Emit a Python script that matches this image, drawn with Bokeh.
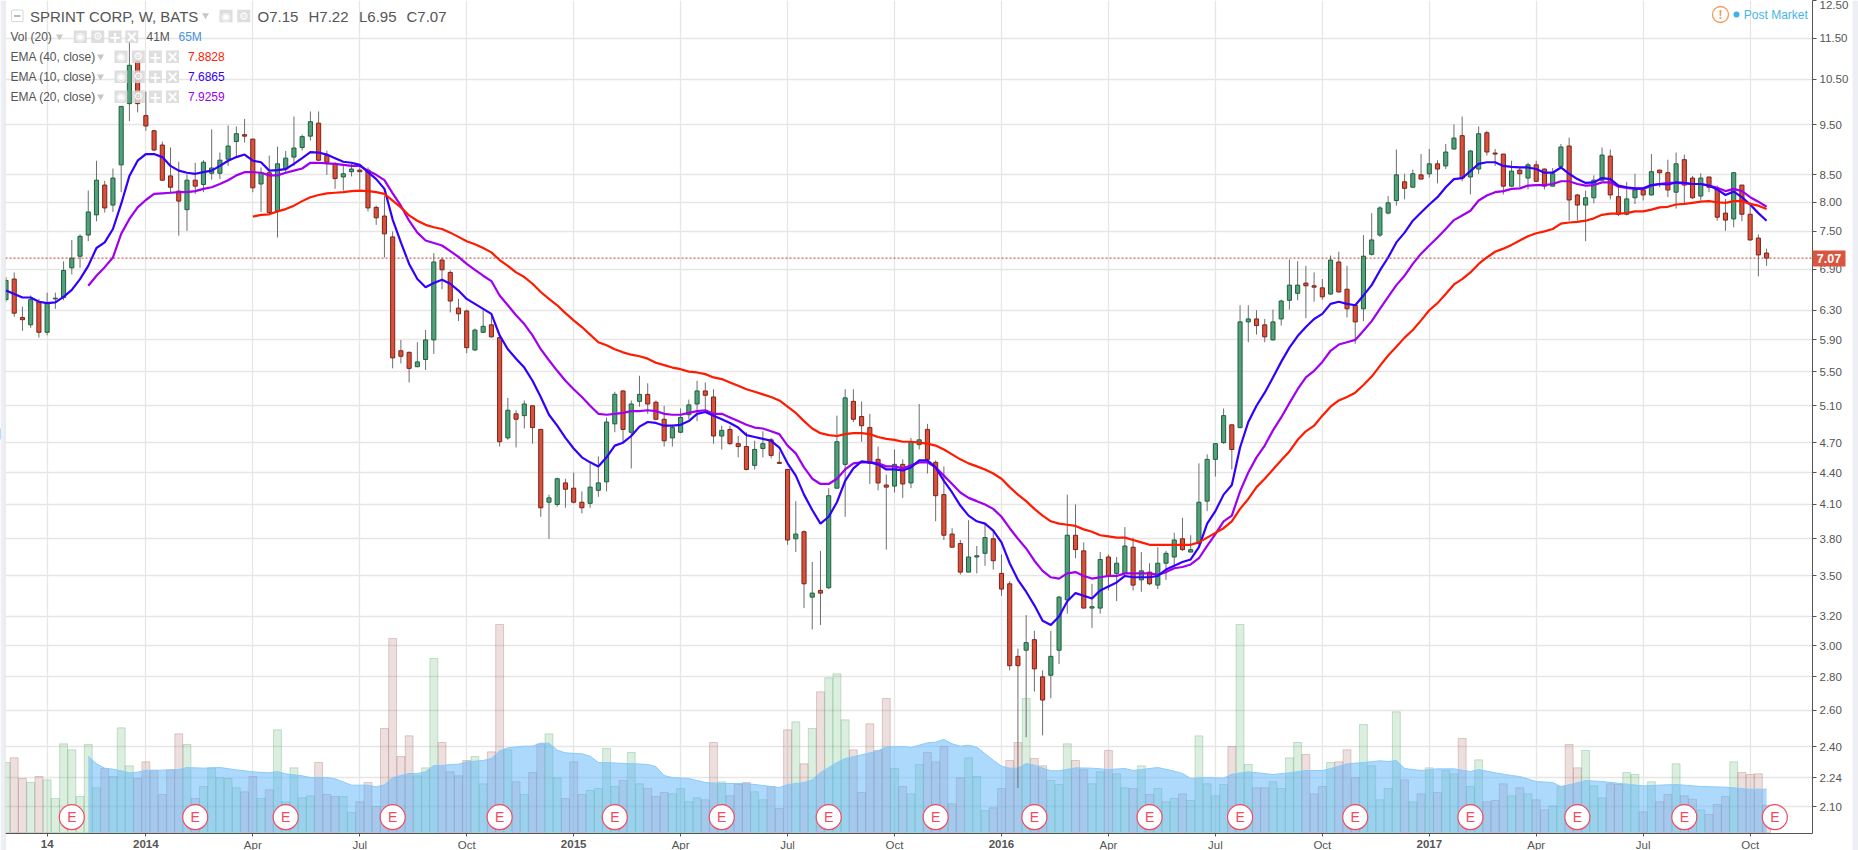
from bokeh.plotting import figure
from bokeh.models import (Range1d, FixedTicker, Span, Label, BoxAnnotation,
                          PrintfTickFormatter, LinearScale)
from bokeh.core.properties import value
from bokeh.embed import file_html
from bokeh.resources import INLINE

opens = [6.45,6.75,6.20,6.10,6.42,6.00,6.46,6.48,6.92,7.10,
7.44,7.78,8.31,7.95,8.69,9.95,10.92,9.69,9.37,9.08,
8.48,8.20,7.87,8.40,8.32,8.53,8.53,8.80,9.15,9.29,
9.20,8.33,8.54,7.85,8.61,8.84,9.03,9.26,9.53,8.87,
8.71,8.46,8.56,8.59,8.59,7.91,7.76,7.41,5.76,5.74,
5.56,5.65,5.90,7.04,6.85,6.33,6.29,5.77,6.00,6.10,
5.93,4.75,5.01,4.99,5.10,4.84,4.12,4.10,4.30,4.25,
4.12,4.11,4.23,4.31,4.90,5.27,4.81,5.15,5.23,5.14,
4.95,4.75,4.81,5.00,5.12,5.27,5.20,4.77,4.84,4.69,
4.66,4.47,4.64,4.73,4.50,4.43,3.80,3.86,3.34,3.39,
3.41,4.25,4.48,5.15,4.98,4.86,4.53,4.28,4.27,4.48,
4.30,4.68,4.84,4.50,4.19,3.84,3.76,3.53,3.65,3.68,
3.80,3.52,3.44,2.93,2.97,3.04,2.80,2.81,2.97,3.32,
3.83,3.70,3.26,3.26,3.65,3.52,3.52,3.73,3.47,3.53,
3.43,3.60,3.65,3.80,3.69,3.76,4.13,4.53,4.70,4.89,
4.86,6.14,6.18,6.10,5.90,6.18,6.44,6.54,6.69,6.65,
6.62,6.53,7.01,6.60,6.37,6.32,7.13,7.44,7.81,8.03,
8.37,8.27,8.50,8.52,8.71,8.67,9.00,9.27,8.46,8.61,
9.33,8.92,8.90,8.29,8.59,8.44,8.69,8.61,8.29,8.66,
9.06,8.13,7.95,8.08,8.40,8.86,8.10,7.79,8.08,8.22,
8.13,8.59,8.54,8.18,8.79,8.44,8.11,8.46,8.25,7.81,
7.71,8.31,7.79,7.39,7.15]

closes = [6.73,6.26,6.17,6.45,6.00,6.40,6.47,6.88,7.07,7.42,
7.83,8.40,7.90,8.44,9.89,10.83,9.95,9.47,8.98,8.40,
8.27,8.02,8.40,8.29,8.74,8.63,8.78,9.06,9.31,9.26,
8.26,8.54,7.82,8.71,8.82,9.02,9.25,9.56,8.78,8.74,
8.43,8.52,8.61,8.56,7.90,7.73,7.46,5.67,5.69,5.54,
5.62,5.90,7.01,6.89,6.43,6.25,5.80,6.03,6.08,5.94,
4.71,5.05,4.95,5.12,4.86,4.07,4.16,4.34,4.24,4.12,
4.07,4.26,4.30,4.92,5.23,4.84,5.12,5.23,5.12,4.95,
4.72,4.86,4.97,5.11,5.27,5.22,4.77,4.83,4.69,4.66,
4.43,4.63,4.69,4.57,4.49,3.79,3.84,3.44,3.37,3.37,
4.18,4.71,5.19,4.95,4.88,4.49,4.30,4.26,4.48,4.29,
4.71,4.73,4.53,4.18,3.83,3.73,3.53,3.65,3.66,3.81,
3.62,3.40,2.87,2.87,3.02,2.85,2.66,2.93,3.34,3.83,
3.71,3.26,3.27,3.63,3.50,3.60,3.74,3.43,3.54,3.44,
3.60,3.68,3.79,3.71,3.71,4.12,4.53,4.69,4.99,4.63,
6.14,6.18,6.09,5.94,6.14,6.43,6.66,6.66,6.65,6.63,
6.49,7.04,6.56,6.32,6.14,7.10,7.36,7.90,7.99,8.50,
8.25,8.52,8.42,8.71,8.61,8.94,9.22,8.44,8.96,9.31,
8.94,8.90,8.29,8.57,8.52,8.69,8.38,8.29,8.52,9.04,
8.04,7.95,8.08,8.40,8.88,8.13,7.79,8.06,8.22,8.13,
8.56,8.54,8.22,8.71,8.31,8.08,8.44,8.27,7.74,7.69,
8.54,7.79,7.36,7.12,7.07]

highs = [6.78,6.85,6.35,6.51,6.46,6.55,6.55,7.02,7.36,7.45,
8.21,8.77,8.39,8.62,9.89,11.48,11.03,10.22,9.39,9.15,
9.03,8.75,8.51,8.73,8.78,9.40,8.93,9.48,9.46,9.62,
9.20,8.64,8.87,9.05,8.96,9.67,9.29,9.78,9.78,8.97,
8.74,8.68,8.71,8.69,8.64,7.94,8.12,7.50,5.90,5.75,
5.87,6.03,7.15,7.08,6.88,6.46,6.31,6.05,6.30,6.23,
5.93,5.19,5.05,5.16,5.10,4.84,4.19,4.35,4.34,4.40,
4.22,4.49,4.56,4.97,5.26,5.28,5.16,5.45,5.36,5.16,
5.10,4.89,5.07,5.17,5.39,5.37,5.29,4.88,4.88,4.77,
4.81,4.72,4.82,4.75,4.61,4.43,4.13,3.87,3.61,3.70,
4.25,4.99,5.29,5.29,5.15,5.01,4.66,4.38,4.63,4.53,
4.75,5.12,4.90,4.52,4.46,3.89,3.79,3.96,3.74,3.93,
3.88,3.67,3.46,2.98,3.21,3.10,2.84,3.10,3.35,4.19,
4.10,3.77,3.44,3.69,3.67,3.65,3.90,3.81,3.69,3.60,
3.73,3.70,3.85,3.98,3.83,4.49,4.58,4.69,5.07,4.89,
6.37,6.37,6.30,6.18,6.31,6.45,7.05,7.02,6.95,6.85,
6.75,7.11,7.17,6.95,6.37,7.44,7.81,7.93,8.11,8.99,
8.52,8.60,8.90,9.00,8.78,9.10,9.50,9.67,8.98,9.46,
9.37,9.00,8.90,8.77,8.64,8.73,8.77,8.62,8.63,9.10,
9.23,8.15,8.21,8.49,9.03,8.99,8.27,8.37,8.52,8.27,
8.90,8.59,8.79,8.93,8.89,8.48,8.53,8.46,8.30,8.06,
8.55,8.31,8.00,7.45,7.22]

lows = [6.42,6.21,6.02,6.06,5.93,5.96,6.32,6.44,6.82,6.92,
7.34,7.67,7.82,7.83,8.18,9.57,9.76,9.37,8.96,8.39,
8.18,7.43,7.51,8.15,8.18,8.41,8.42,8.67,8.85,9.13,
8.18,7.83,7.79,7.40,8.52,8.67,8.97,9.17,8.77,8.50,
8.24,8.21,8.47,8.23,7.84,7.61,7.08,5.54,5.60,5.37,
5.56,5.52,5.72,6.60,6.27,6.15,5.73,5.76,5.99,5.93,
4.66,4.73,4.65,4.85,4.69,3.99,3.80,4.08,4.07,4.11,
4.02,4.07,4.17,4.22,4.81,4.70,4.44,5.09,5.01,4.94,
4.66,4.66,4.80,4.95,4.93,5.04,4.69,4.63,4.68,4.55,
4.42,4.43,4.55,4.54,4.49,3.75,3.69,3.26,3.11,3.14,
3.40,4.25,3.99,4.92,4.71,4.29,4.23,3.71,4.21,4.16,
4.25,4.63,4.39,3.95,3.79,3.73,3.51,3.53,3.52,3.58,
3.55,3.35,2.84,2.19,2.45,2.71,2.46,2.67,2.88,3.22,
3.64,3.26,3.12,3.22,3.39,3.31,3.51,3.39,3.38,3.43,
3.40,3.47,3.57,3.70,3.69,3.75,4.04,4.36,4.69,4.43,
4.85,5.87,5.97,5.87,5.89,6.09,6.31,6.44,6.19,6.42,
6.45,6.52,6.55,6.20,5.85,6.15,7.11,7.41,7.79,7.94,
8.05,8.27,8.42,8.45,8.34,8.61,8.99,8.38,8.14,8.52,
8.87,8.67,8.14,8.28,8.27,8.23,8.37,8.23,8.29,8.65,
7.68,7.68,7.34,7.98,8.39,8.05,7.76,7.77,7.97,8.03,
8.12,8.27,8.09,7.89,7.97,8.06,8.03,8.18,7.68,7.51,
7.57,7.67,7.35,6.79,6.95]

volume = [105,112,81,75,84,79,51,133,124,54,
132,67,96,84,157,100,81,106,93,57,
94,148,132,51,69,97,82,81,67,61,
84,51,64,154,46,97,52,55,105,57,
54,54,30,46,75,39,156,291,114,145,
85,97,261,135,91,85,108,114,73,121,
312,124,76,57,90,133,148,82,51,106,
57,63,66,126,69,78,
120,73,66,54,60,58,66,46,52,49,
135,76,55,72,75,61,49,69,36,154,
166,103,156,211,232,238,169,124,60,163,
123,201,96,69,58,102,120,106,129,43,
82,112,84,33,37,66,108,135,201,111,
100,78,72,133,108,94,73,91,123,88,
67,66,100,57,66,46,51,58,48,145,
73,55,72,129,312,
102,67,67,76,66,112,135,117,58,69,
105,106,124,82,162,100,49,66,181,79,
46,58,97,60,93,88,141,69,109,46,
48,73,55,67,58,49,34,40,69,132,
97,123,70,52,73,72,90,87,31,76,
46,57,103,55,50,34,27,42,54,106,
90,87,88,41]

vol_ma_idx = [10,11,12,13,14,15,16,17,19,21,22,24,26,28,30,32,33,34,36,37,39,40,42,44,45,46,47,49,50,51,
52,53,54,55,56,58,59,60,61,63,64,65,66,67,68,70,71,72,73,75,76,78,79,80,81,83,85,87,89,90,
92,94,95,97,98,99,100,101,102,104,105,106,107,109,110,111,112,113,114,115,116,117,118,120,121,122,123,124,125,127,
128,130,132,134,136,137,138,140,142,143,144,146,148,149,151,154,156,158,160,161,163,165,167,168,169,170,172,174,176,178,
179,181,183,184,186,188,189,191,192,194,197,199,203,206,209,210,212,214]
vol_ma = [114.5,103,96.5,95,92.5,89.5,90.5,93.5,93.5,94.5,97.5,96.5,97.5,94,91,89.5,91.5,88,85,82.5,82.5,80.5,71,71,68.5,71.5,82.5,88.5,88.5,91,
100.5,100.5,102,102.5,106,108,111,122.5,127,129.5,129.5,134,134,123.5,119.5,118,114.5,105,105,103.5,103.5,102,99,85.5,82.5,81,75,73.5,73.5,73.5,
70.5,67.5,72,75,79,90,97.5,105,111,116.5,119.5,122.5,128.5,129,127.5,131,134.5,135.5,139.5,133,129.5,131,128,108.5,99.5,96.5,96.5,103.5,101,92.5,
92.5,97,96.5,94.5,96,93,94.5,97.5,92,88.5,81,82.5,81.5,87.5,91,87,89.5,93,93,96,103,105,107.5,106.5,108,96,93,95.5,95.5,91.5,
94.5,89.5,85.5,84,76.5,75,69,74.5,78,76.5,72.5,70,72,69,68,67,65,65]

ema10 = [6.58,6.53,6.48,6.48,6.42,6.40,6.41,6.49,6.59,6.75,
6.95,7.23,7.32,7.54,7.97,8.48,8.77,8.90,8.90,8.84,
8.67,8.58,8.54,8.52,8.55,8.58,8.67,8.77,8.84,8.89,
8.77,8.74,8.58,8.59,8.61,8.71,8.82,8.94,8.93,8.89,
8.82,8.75,8.73,8.69,8.55,8.42,8.24,7.70,7.32,6.98,
6.75,6.63,6.69,6.74,6.68,6.58,6.46,6.39,6.32,6.25,
5.96,5.78,5.66,5.55,5.39,5.20,5.00,4.88,4.75,4.64,
4.55,4.50,4.46,4.55,4.67,4.70,4.77,4.87,4.92,4.91,
4.88,4.88,4.89,4.93,5.01,5.03,4.99,4.95,4.91,4.86,
4.78,4.76,4.74,4.72,4.65,4.49,4.37,4.19,4.05,3.93,
3.99,4.12,4.32,4.44,4.51,4.50,4.48,4.43,4.43,4.42,
4.45,4.52,4.52,4.45,4.32,4.21,4.09,4.00,3.95,3.93,
3.87,3.77,3.60,3.47,3.38,3.28,3.17,3.14,3.20,3.31,
3.37,3.35,3.33,3.39,3.42,3.45,3.50,3.49,3.49,3.49,
3.50,3.55,3.58,3.61,3.63,3.73,3.93,4.04,4.19,4.28,
4.65,4.92,5.10,5.25,5.43,5.62,5.80,5.95,6.07,6.18,
6.25,6.39,6.42,6.39,6.37,6.51,6.66,6.88,7.08,7.32,
7.48,7.68,7.82,7.96,8.09,8.27,8.42,8.44,8.57,8.71,
8.74,8.74,8.67,8.65,8.64,8.64,8.61,8.54,8.54,8.64,
8.52,8.42,8.35,8.36,8.44,8.42,8.30,8.27,8.25,8.25,
8.31,8.33,8.32,8.36,8.35,8.33,8.33,8.30,8.23,8.13,
8.19,8.09,7.96,7.81,7.68]

ema20_start = 10
ema20 = [6.65,6.80,6.93,7.08,7.46,7.71,7.91,8.04,8.15,8.16,
8.17,8.18,8.18,8.20,8.24,8.27,8.33,8.40,8.49,8.55,
8.55,8.54,8.49,8.49,8.54,8.58,8.62,8.73,8.73,8.72,
8.71,8.69,8.67,8.67,8.58,8.50,8.40,8.16,7.94,7.68,
7.48,7.35,7.31,7.27,7.18,7.09,6.98,6.89,6.80,6.72,
6.51,6.37,6.23,6.11,5.96,5.78,5.64,5.51,5.39,5.29,
5.20,5.10,5.01,5.00,5.01,5.02,5.04,5.04,5.05,5.04,
5.01,5.00,5.00,5.02,5.04,5.05,5.01,5.01,4.97,4.93,
4.89,4.86,4.85,4.82,4.79,4.67,4.59,4.45,4.34,4.29,
4.29,4.34,4.43,4.49,4.50,4.50,4.49,4.46,4.46,4.44,
4.47,4.50,4.50,4.45,4.37,4.29,4.21,4.16,4.13,4.10,
4.06,3.99,3.89,3.80,3.72,3.62,3.54,3.49,3.48,3.52,
3.53,3.50,3.48,3.49,3.50,3.50,3.52,3.52,3.52,3.52,
3.51,3.53,3.56,3.57,3.59,3.64,3.74,3.84,3.95,4.00,
4.22,4.40,4.55,4.67,4.83,4.97,5.13,5.29,5.43,5.51,
5.62,5.76,5.84,5.87,5.90,6.02,6.15,6.32,6.49,6.66,
6.80,6.98,7.14,7.27,7.40,7.54,7.69,7.77,7.85,8.03,
8.12,8.18,8.20,8.24,8.25,8.30,8.31,8.31,8.33,8.38,
8.38,8.33,8.30,8.31,8.36,8.36,8.28,8.26,8.24,8.24,
8.30,8.33,8.35,8.35,8.34,8.33,8.33,8.30,8.26,8.20,
8.24,8.20,8.09,8.01,7.92]

ema40_start = 30
ema40 = [7.75,7.78,7.79,7.84,7.88,7.94,8.02,8.09,8.13,8.16,
8.17,8.18,8.20,8.21,8.20,8.18,8.15,8.03,7.91,7.77,
7.68,7.61,7.57,7.54,7.48,7.41,7.34,7.29,7.23,7.16,
7.04,6.95,6.85,6.78,6.68,6.56,6.46,6.37,6.26,6.16,
6.07,5.97,5.87,5.83,5.78,5.74,5.71,5.69,5.66,5.61,
5.58,5.55,5.53,5.50,5.49,5.47,5.43,5.41,5.37,5.33,
5.29,5.26,5.23,5.20,5.16,5.09,5.02,4.93,4.85,4.80,
4.78,4.77,4.79,4.80,4.80,4.79,4.76,4.74,4.73,4.71,
4.71,4.70,4.69,4.67,4.63,4.58,4.53,4.49,4.46,4.43,
4.39,4.34,4.26,4.19,4.13,4.06,4.00,3.95,3.93,3.92,
3.91,3.88,3.86,3.83,3.82,3.81,3.81,3.79,3.77,3.75,
3.75,3.75,3.75,3.75,3.75,3.77,3.81,3.85,3.89,3.95,
4.06,4.15,4.26,4.34,4.43,4.52,4.61,4.73,4.82,4.88,
4.99,5.09,5.16,5.20,5.25,5.34,5.44,5.57,5.70,5.81,
5.93,6.03,6.16,6.30,6.40,6.53,6.67,6.75,6.85,6.98,
7.08,7.17,7.22,7.28,7.35,7.42,7.47,7.50,7.54,7.63,
7.65,7.66,7.68,7.72,7.78,7.80,7.80,7.81,7.84,7.84,
7.87,7.91,7.92,7.96,7.97,7.99,8.01,8.02,8.00,7.99,
8.02,8.02,7.97,7.94,7.88]

earnings_idx = [8,23,34,47,60,74,87,100,113,125,139,150,164,178,191,204,215]
earnings_level = 23

price_ticks = [2.10,2.24,2.40,2.60,2.80,3.00,3.20,3.50,3.80,4.10,4.40,4.70,5.10,5.50,5.90,6.30,6.90,7.50,8.00,8.50,9.50,10.50,11.50,12.50]
time_ticks = [5,17,30,43,56,69,82,95,108,121,134,147,160,173,186,199,212]
time_labels = ["14","2014","Apr","Jul","Oct","2015","Apr","Jul","Oct","2016","Apr","Jul","Oct","2017","Apr","Jul","Oct"]
last_price = 7.07

UP_FILL, UP_LINE = "#53A17A", "#1F5F3F"
DN_FILL, DN_LINE = "#D9513B", "#7A2318"
FONT = "Liberation Sans"
TEXT = "#555555"
CHROME = "#EDEFF5"

X0, X1 = -0.06, 219.58
FRAME_LEFT, FRAME_W = 5, 1807

assert len(opens)==len(closes)==len(highs)==len(lows)==len(volume)==len(ema10)==215
assert len(vol_ma_idx)==len(vol_ma)
assert len(ema20)==205 and len(ema40)==185

p = figure(frame_width=FRAME_W, frame_height=833, y_axis_type="log", y_axis_location="right",
           x_range=Range1d(X0, X1), y_range=Range1d(1.98, 12.5),
           output_backend="svg", toolbar_location=None,
           min_border_left=FRAME_LEFT, min_border_right=46, min_border_top=0, min_border_bottom=17,
           outline_line_color=None, background_fill_color="white", border_fill_color="white")
p.styles = {"position": "absolute", "left": "0px", "top": "0px"}

p.extra_y_ranges = {"vol": Range1d(-1.5, 1248)}
p.extra_y_scales = {"vol": LinearScale()}

idx = list(range(len(opens)))
up = [c >= o for o, c in zip(opens, closes)]

# axes and grid
p.yaxis.ticker = FixedTicker(ticks=price_ticks)
p.yaxis.formatter = PrintfTickFormatter(format="%.2f")
p.ygrid.ticker = FixedTicker(ticks=price_ticks)
p.yaxis.axis_line_color = TEXT
p.yaxis.major_tick_line_color = TEXT
p.yaxis.minor_tick_line_color = None
p.yaxis.major_tick_out = 4
p.yaxis.major_tick_in = 0
p.yaxis.major_label_standoff = 3
p.yaxis.major_label_text_font = FONT
p.yaxis.major_label_text_font_size = "11.5px"
p.yaxis.major_label_text_color = TEXT

p.xaxis.ticker = FixedTicker(ticks=time_ticks)
p.xaxis.major_label_overrides = {t: ("" if l[0].isdigit() else l) for t, l in zip(time_ticks, time_labels)}
p.xgrid.ticker = FixedTicker(ticks=time_ticks)
p.xaxis.axis_line_color = TEXT
p.xaxis.major_tick_line_color = TEXT
p.xaxis.minor_tick_line_color = None
p.xaxis.major_tick_out = 3
p.xaxis.major_tick_in = 0
p.xaxis.major_label_standoff = 2
p.xaxis.major_label_text_font = FONT
p.xaxis.major_label_text_font_size = "11.5px"
p.xaxis.major_label_text_color = TEXT
for g in (p.xgrid, p.ygrid):
    g.grid_line_color = "#E6E6E6"
    g.grid_line_width = 1.3

# volume
vol_fill = ["#50AA64" if u else "#AA5F5F" for u in up]
p.vbar(x=idx, top=volume, bottom=0, width=0.96, y_range_name="vol", fill_color=vol_fill, fill_alpha=0.2,
       line_color=vol_fill, line_alpha=0.3, line_width=1)
p.varea(x=vol_ma_idx, y1=[0]*len(vol_ma), y2=vol_ma, y_range_name="vol", fill_color="#5AB4FA", fill_alpha=0.5)
p.line(x=vol_ma_idx, y=vol_ma, y_range_name="vol", line_color="#8ACBFA", line_width=1)

# candles
p.segment(x0=idx, x1=idx, y0=lows, y1=highs, line_color="#6E6E6E", line_width=1)
tops = [max(o, c) for o, c in zip(opens, closes)]
bots = [min(o, c) for o, c in zip(opens, closes)]
p.vbar(x=idx, top=tops, bottom=bots, width=0.5,
       fill_color=[UP_FILL if u else DN_FILL for u in up],
       line_color=[UP_LINE if u else DN_LINE for u in up], line_width=1)

# moving averages
p.line(x=list(range(ema20_start, ema20_start + len(ema20))), y=ema20, line_color="#A000F0", line_width=2.2)
p.line(x=idx, y=ema10, line_color="#3300FF", line_width=2.2)
p.line(x=list(range(ema40_start, ema40_start + len(ema40))), y=ema40, line_color="#FF1A00", line_width=2.2)

p.add_layout(Span(location=last_price, dimension="width", line_color="#B93A2B", line_dash="2 2", line_width=1))

# earnings
levels = [earnings_level] * len(earnings_idx)
p.scatter(x=earnings_idx, y=levels, y_range_name="vol", size=25, marker="circle",
          fill_color="white", line_color="#F2495F", line_width=1.2)
p.text(x=earnings_idx, y=levels, y_range_name="vol", text=["E"] * len(earnings_idx),
       text_align="center", text_baseline="middle", text_font=value(FONT),
       text_font_size="14px", text_color="#F2495F")

# ---- transparent overlay carrying the page chrome: its frame fills the window
q = figure(width=1858, height=850, x_range=Range1d(0, 1858), y_range=Range1d(850, 0),
           x_axis_location=None, y_axis_location=None, min_border=0,
           output_backend="svg", toolbar_location=None, outline_line_color=None,
           background_fill_color=None, border_fill_color=None)
q.grid.visible = False
q.styles = {"position": "absolute", "left": "0px", "top": "0px"}


def lab(text, x, y, size="12px", color=TEXT, align="left", style="normal", font=FONT):
    q.add_layout(Label(x=x, y=y, text=text, text_font_size=size, text_color=color, text_align=align,
                       text_baseline="middle", text_font_style=style, text_font=font))


def box(left, right, top, bottom, fill, alpha=1.0, line=None, radius=0):
    q.add_layout(BoxAnnotation(left=left, right=right, top=top, bottom=bottom, fill_color=fill, fill_alpha=alpha,
                               line_color=line, line_width=1, border_radius=radius, level="annotation"))


def caret(x, y):
    q.scatter(x=[x], y=[y], marker="inverted_triangle", size=7, fill_color="#C8C8C8", line_color=None)


def icon(left, top, ch, size="11px"):
    box(left, left + 13, top, top + 12.4, "#D8D8D8", 0.85)
    lab(ch, left + 6.5, top + 6.2, size=size, color="white", align="center", font="DejaVu Sans", style="bold")


# side strips and the scroll handle
box(0, 4.3, 0, 850, CHROME)
box(4.3, 5, 0, 850, "#D5D8DE")
box(1852, 1858, 0, 850, CHROME)
q.scatter(x=[-3.5], y=[433.5], size=13, fill_color="#3DB0F0", line_color=None)

# header rows
box(11, 22.5, 9.5, 21, "white", 0.0, line="#777777", radius=1)
box(13.5, 20, 15, 16, "#777777")
lab("SPRINT CORP, W, BATS", 29.5, 15.5, size="15px")
caret(205, 14.7)
for t, x in (("O7.15", 257), ("H7.22", 308), ("L6.95", 358.5), ("C7.07", 406)):
    lab(t, x, 15.5, size="15px")
icon(219, 9.3, "\u25c9")
icon(236.8, 9.3, "\u2699")
lab("Vol (20)", 10, 36, size="12px")
caret(59, 36)
for x, ch, s in ((73.3, "\u25c9", "11px"), (90.7, "\u2699", "11px"), (108, "+", "15px"), (124.8, "\u00d7", "15px")):
    icon(x, 30, ch, s)
lab("41M", 146, 36, size="12px")
lab("65M", 178, 36, size="12px", color="#4A90E2")
rows = [("EMA (40, close)", "7.8828", "#FF1A00", 56), ("EMA (10, close)", "7.6865", "#3300FF", 76),
        ("EMA (20, close)", "7.9259", "#A000F0", 96)]
for name, val, col, y in rows:
    lab(name, 10, y, size="12px")
    caret(100, y)
    for x, ch, s in ((114, "\u25c9", "11px"), (131.3, "\u2699", "11px"), (148.3, "+", "15px"), (165.5, "\u00d7", "15px")):
        icon(x, y - 6, ch, s)
    lab(val, 187.5, y, size="12px", color=col)

# status, top right
q.scatter(x=[1720], y=[14], marker="circle", size=16, fill_color="white", line_color="#F59A57", line_width=1.3)
lab("!", 1720, 14, size="12px", color="#F59A57", align="center", style="bold")
q.scatter(x=[1736], y=[14], marker="circle", size=6, fill_color="#3DB0E8", line_color=None)
lab("Post Market", 1743.3, 14, size="12px", color="#45B6EA")

# last price tag
box(1812, 1845, 250, 266, "#D9553F")
lab("7.07", 1828.5, 258, size="12.5px", color="white", align="center", style="bold")

# year labels on the time axis
for t, l in zip(time_ticks, time_labels):
    if l[0].isdigit():
        lab(l, FRAME_LEFT + (t - X0) * FRAME_W / (X1 - X0), 843, size="11.5px", align="center", style="bold")

open("out.html", "w").write(file_html([p, q], INLINE))
